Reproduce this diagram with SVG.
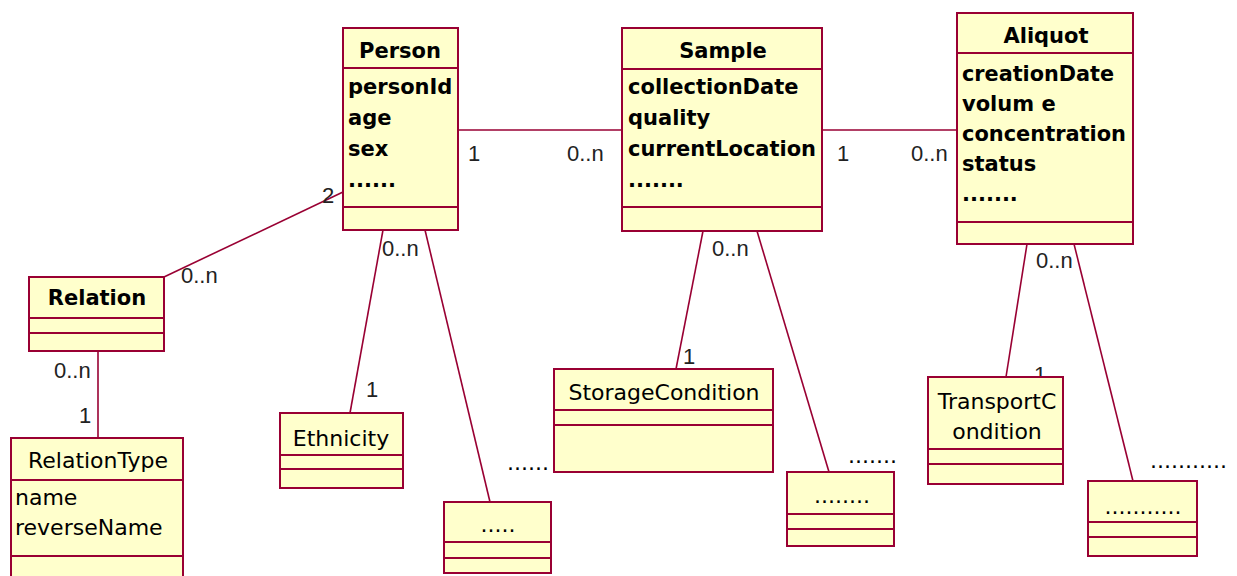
<svg xmlns="http://www.w3.org/2000/svg" width="1237" height="576" viewBox="0 0 1237 576">
<style>
.box{fill:#FFFFCC;stroke:#990033;stroke-width:2}
.sep{stroke:#990033;stroke-width:2}
.con line{stroke:#990033;stroke-width:1.6}
.b{font-family:"DejaVu Sans",sans-serif;font-weight:bold;font-size:21px;fill:#000}
.r{font-family:"DejaVu Sans",sans-serif;font-size:22px;fill:#000}
.m{font-family:"Liberation Sans",sans-serif;font-size:22px;fill:#222}
.c{text-anchor:middle}
</style>
<rect width="1237" height="576" fill="#fff"/>
<g id="connectors" class="con">
<line x1="458" y1="130" x2="622" y2="130"/>
<line x1="822" y1="130" x2="957" y2="130"/>
<line x1="164" y1="277" x2="343" y2="192"/>
<line x1="98" y1="351" x2="98" y2="438"/>
<line x1="383" y1="230" x2="350" y2="413"/>
<line x1="425" y1="230" x2="490" y2="502"/>
<line x1="703" y1="231" x2="676" y2="369"/>
<line x1="757" y1="231" x2="829" y2="472"/>
<line x1="1027" y1="244" x2="1006" y2="377"/>
<line x1="1074" y1="244" x2="1133" y2="481"/>
</g>
<g id="labels">
<text class="m" x="468" y="161">1</text>
<text class="m" x="567" y="161">0..n</text>
<text class="m" x="837" y="161">1</text>
<text class="m" x="911" y="161">0..n</text>
<text class="m" x="322" y="203">2</text>
<text class="m" x="181" y="283">0..n</text>
<text class="m" x="54" y="378">0..n</text>
<text class="m" x="79" y="423">1</text>
<text class="m" x="382" y="256">0..n</text>
<text class="m" x="366" y="397">1</text>
<text class="m" x="712" y="256">0..n</text>
<text class="m" x="683" y="364">1</text>
<text class="m" x="1036" y="268">0..n</text>
<text class="m" x="1034" y="382">1</text>
<text class="r" x="507" y="470">......</text>
<text class="r" x="848" y="463">.......</text>
<text class="r" x="1150" y="468">...........</text>
</g>
<g id="Person">
<rect class="box" x="343" y="28" width="115" height="202"/>
<line class="sep" x1="343" y1="68" x2="458" y2="68"/>
<line class="sep" x1="343" y1="207" x2="458" y2="207"/>
<text class="b c" x="400" y="58">Person</text>
<text class="b" x="348" y="94">personId</text>
<text class="b" x="348" y="125">age</text>
<text class="b" x="348" y="156">sex</text>
<text class="b" x="348" y="187">......</text>
</g>
<g id="Sample">
<rect class="box" x="622" y="28" width="200" height="203"/>
<line class="sep" x1="622" y1="69" x2="822" y2="69"/>
<line class="sep" x1="622" y1="207" x2="822" y2="207"/>
<text class="b c" x="723" y="58">Sample</text>
<text class="b" x="628" y="94">collectionDate</text>
<text class="b" x="628" y="125">quality</text>
<text class="b" x="628" y="156" textLength="188" lengthAdjust="spacingAndGlyphs">currentLocation</text>
<text class="b" x="628" y="187">.......</text>
</g>
<g id="Aliquot">
<rect class="box" x="957" y="13" width="176" height="231"/>
<line class="sep" x1="957" y1="53" x2="1133" y2="53"/>
<line class="sep" x1="957" y1="222" x2="1133" y2="222"/>
<text class="b c" x="1046" y="43">Aliquot</text>
<text class="b" x="962" y="81" textLength="152" lengthAdjust="spacingAndGlyphs">creationDate</text>
<text class="b" x="962" y="111">volum e</text>
<text class="b" x="962" y="141" textLength="164" lengthAdjust="spacingAndGlyphs">concentration</text>
<text class="b" x="962" y="171">status</text>
<text class="b" x="962" y="201">.......</text>
</g>
<g id="Relation">
<rect class="box" x="29" y="277" width="135" height="74"/>
<line class="sep" x1="29" y1="318" x2="164" y2="318"/>
<line class="sep" x1="29" y1="333" x2="164" y2="333"/>
<text class="b c" x="97" y="305">Relation</text>
</g>
<g id="RelationType">
<rect class="box" x="11" y="438" width="172" height="150"/>
<line class="sep" x1="11" y1="480" x2="183" y2="480"/>
<line class="sep" x1="11" y1="556" x2="183" y2="556"/>
<text class="r c" x="98" y="468" textLength="140" lengthAdjust="spacingAndGlyphs">RelationType</text>
<text class="r" x="15" y="505">name</text>
<text class="r" x="15" y="535">reverseName</text>
</g>
<g id="Ethnicity">
<rect class="box" x="280" y="413" width="123" height="75"/>
<line class="sep" x1="280" y1="455" x2="403" y2="455"/>
<line class="sep" x1="280" y1="469" x2="403" y2="469"/>
<text class="r c" x="341" y="446">Ethnicity</text>
</g>
<g id="PersonMore">
<rect class="box" x="444" y="502" width="107" height="71"/>
<line class="sep" x1="444" y1="542" x2="551" y2="542"/>
<line class="sep" x1="444" y1="558" x2="551" y2="558"/>
<text class="r c" x="498" y="532">.....</text>
</g>
<g id="StorageCondition">
<rect class="box" x="554" y="369" width="219" height="103"/>
<line class="sep" x1="554" y1="410" x2="773" y2="410"/>
<line class="sep" x1="554" y1="425" x2="773" y2="425"/>
<text class="r c" x="664" y="400">StorageCondition</text>
</g>
<g id="SampleMore">
<rect class="box" x="787" y="472" width="107" height="74"/>
<line class="sep" x1="787" y1="514" x2="894" y2="514"/>
<line class="sep" x1="787" y1="529" x2="894" y2="529"/>
<text class="r c" x="842" y="503">........</text>
</g>
<g id="TransportCondition">
<rect class="box" x="928" y="377" width="135" height="107"/>
<line class="sep" x1="928" y1="449" x2="1063" y2="449"/>
<line class="sep" x1="928" y1="464" x2="1063" y2="464"/>
<text class="r c" x="997" y="409">TransportC</text>
<text class="r c" x="997" y="439">ondition</text>
</g>
<g id="AliquotMore">
<rect class="box" x="1088" y="481" width="109" height="75"/>
<line class="sep" x1="1088" y1="522" x2="1197" y2="522"/>
<line class="sep" x1="1088" y1="537" x2="1197" y2="537"/>
<text class="r c" x="1143" y="514">...........</text>
</g>
</svg>
